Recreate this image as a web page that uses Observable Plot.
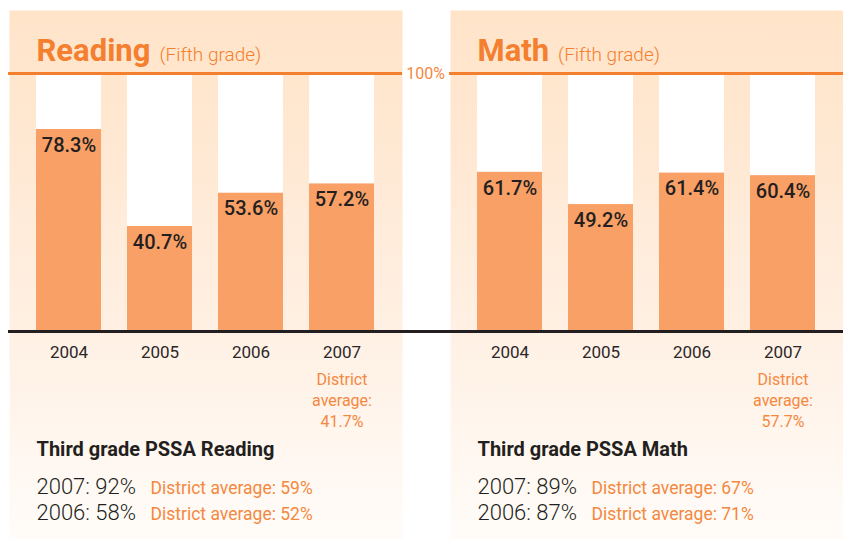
<!DOCTYPE html>
<html>
<head>
<meta charset="utf-8">
<script src="https://cdn.jsdelivr.net/npm/d3@7"></script>
<script src="https://cdn.jsdelivr.net/npm/@observablehq/plot@0.6"></script>
<style>
  html, body { margin: 0; padding: 0; background: #ffffff; overflow: hidden; }
  #chart svg { display: block; }
</style>
</head>
<body>
<div id="chart"></div>
<script>
// ---------- data ----------
const subjects = ["Reading", "Math"];
const subtitle = "(Fifth grade)";
const years = ["2004", "2005", "2006", "2007"];
const readingValues = [78.3, 40.7, 53.6, 57.2];
const mathValues = [61.7, 49.2, 61.4, 60.4];
const districtAverage2007 = [41.7, 57.7];
const thirdGradeTitles = ["Third grade PSSA Reading", "Third grade PSSA Math"];
const thirdGrade2007 = [92, 89];
const thirdGrade2006 = [58, 87];
const thirdGradeDistrict2007 = [59, 67];
const thirdGradeDistrict2006 = [52, 71];
const yMax = 100;

// ---------- tables ----------
const seriesValues = [readingValues, mathValues];
const bars = subjects.flatMap((s, i) =>
  years.map((yr, j) => ({subject: s, year: yr, value: seriesValues[i][j]}))
);
const panels = subjects.map((s, i) => ({
  subject: s,
  third: thirdGradeTitles[i],
  t2007: thirdGrade2007[i],
  t2006: thirdGrade2006[i],
  d2007: thirdGradeDistrict2007[i],
  d2006: thirdGradeDistrict2006[i],
  district: districtAverage2007[i],
  lastYear: years[years.length - 1]
}));

const ORANGE = "#F47F2F";
const TEXT_ORANGE = "#F5883F";
const BAR = "#F9A066";
const DARK = "#231F20";

const hasAxisMark = typeof Plot.axisX === "function";

const chart = Plot.plot({
  width: 843,
  height: 539,
  marginTop: 73,
  marginBottom: 208,
  marginLeft: 9,
  marginRight: 1,
  fx: {domain: subjects, paddingInner: 49 / 441, paddingOuter: 0, axis: null, label: null},
  x: {domain: years, paddingInner: 26 / 91, paddingOuter: 27 / 91,
      axis: hasAxisMark ? null : "bottom", tickSize: 0, tickPadding: 15, label: null},
  y: {domain: [0, yMax], axis: null},
  style: {fontFamily: "Roboto, 'Noto Sans', sans-serif", fontSize: "17px", color: "#2b2728", background: "transparent", overflow: "visible"},
  marks: [
    Plot.frame({fill: "url(#panelBg)", stroke: "none", insetTop: -63, insetBottom: -208, insetRight: -1}),
    Plot.barY(bars, {fx: "subject", x: "year", y1: 0, y2: yMax, fill: "#ffffff"}),
    Plot.barY(bars, {fx: "subject", x: "year", y: "value", fill: BAR}),
    Plot.ruleY([yMax], {stroke: ORANGE, strokeWidth: 3, insetLeft: -1, insetRight: -1}),
    Plot.ruleY([0], {stroke: DARK, strokeWidth: 3, insetLeft: -1, insetRight: -48}),
    ...(hasAxisMark ? [Plot.axisX({tickSize: 0, tickPadding: 14, label: null, fontSize: 17, fill: "#2b2728"})] : []),
    Plot.text(bars, {
      fx: "subject", x: "year", y: "value",
      text: d => d.value.toFixed(1) + "%",
      lineAnchor: "top", dy: 8, fontSize: 20, fontWeight: 500, fill: DARK
    }),
    Plot.text(panels.slice(0, 1), {
      fx: "subject", y: () => yMax, frameAnchor: "right",
      text: () => yMax + "%", textAnchor: "middle", lineAnchor: "middle",
      dx: 24, fontSize: 16, fill: TEXT_ORANGE
    }),
    Plot.text(panels, {
      fx: "subject", x: "lastYear", frameAnchor: "bottom",
      text: d => `District\naverage:\n${d.district}%`,
      lineAnchor: "top", dy: 39, fontSize: 16, lineHeight: 1.3125, fill: TEXT_ORANGE
    }),
    Plot.text(panels, {
      fx: "subject", frameAnchor: "top-left", text: "subject",
      textAnchor: "start", lineAnchor: "bottom", dx: 27, dy: -13,
      fontSize: 31, fontWeight: 700, fill: ORANGE
    }),
    Plot.text(panels, {
      fx: "subject", frameAnchor: "bottom-left", text: "third",
      textAnchor: "start", lineAnchor: "bottom", dx: 27, dy: 124,
      fontSize: 20, fontWeight: 700, fill: DARK
    }),
    Plot.text(panels, {
      fx: "subject", frameAnchor: "bottom-left", text: d => `${years[3]}: ${d.t2007}%`,
      textAnchor: "start", lineAnchor: "bottom", dx: 27, dy: 162,
      fontSize: 22, fontWeight: 300, fill: DARK
    }),
    Plot.text(panels, {
      fx: "subject", frameAnchor: "bottom-left", text: d => `District average: ${d.d2007}%`,
      textAnchor: "start", lineAnchor: "bottom", dx: 141, dy: 162,
      fontSize: 17.5, fill: TEXT_ORANGE
    }),
    Plot.text(panels, {
      fx: "subject", frameAnchor: "bottom-left", text: d => `${years[2]}: ${d.t2006}%`,
      textAnchor: "start", lineAnchor: "bottom", dx: 27, dy: 188,
      fontSize: 22, fontWeight: 300, fill: DARK
    }),
    Plot.text(panels, {
      fx: "subject", frameAnchor: "bottom-left", text: d => `District average: ${d.d2006}%`,
      textAnchor: "start", lineAnchor: "bottom", dx: 141, dy: 188,
      fontSize: 17.5, fill: TEXT_ORANGE
    })
  ]
});

// gradient for the panel backgrounds
const svg = d3.select(chart);
const defs = svg.insert("defs", ":first-child");
const grad = defs.append("linearGradient")
  .attr("id", "panelBg").attr("x1", 0).attr("y1", 0).attr("x2", 0).attr("y2", 1);
grad.append("stop").attr("offset", "0%").attr("stop-color", "#FFE4C9");
grad.append("stop").attr("offset", "20%").attr("stop-color", "#FFE7D0");
grad.append("stop").attr("offset", "60%").attr("stop-color", "#FFF0E3");
grad.append("stop").attr("offset", "100%").attr("stop-color", "#FFFCF9");

// subtitle "(Fifth grade)" next to each panel title
svg.selectAll("text")
  .filter(function() { return subjects.includes(this.textContent); })
  .append("tspan")
  .attr("dx", 9)
  .attr("font-size", 19)
  .attr("font-weight", 300)
  .text(subtitle);

document.getElementById("chart").append(chart);
</script>
</body>
</html>
